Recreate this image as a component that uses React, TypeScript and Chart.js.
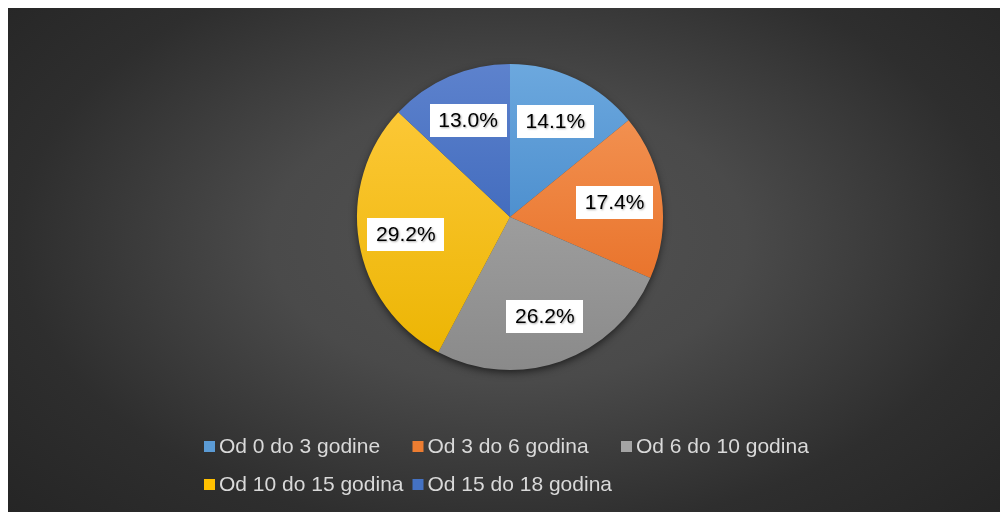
import React, { useEffect, useRef } from "react";
import { Chart, registerables } from "chart.js";

Chart.register(...registerables);

const categories = [
  "Od 0 do 3 godine",
  "Od 3 do 6 godina",
  "Od 6 do 10 godina",
  "Od 10 do 15 godina",
  "Od 15 do 18 godina",
];
const shares = [14.1, 17.4, 26.2, 29.2, 13.0];
const baseColors = ["#5b9bd5", "#ed7d31", "#a5a5a5", "#ffc000", "#4472c4"];
const topColors = ["#6ca8de", "#f59a5c", "#b0b0b0", "#ffcb40", "#5d82cd"];
const bottomColors = ["#3078c0", "#e46418", "#8a8a8a", "#ebb400", "#2a58b0"];

const FONT = "'Liberation Sans', Arial, sans-serif";

const backgroundPlugin = {
  id: "bgGradient",
  beforeDraw(chart: any) {
    const { ctx, width, height } = chart;
    ctx.save();
    const cx = 500;
    const cy = height / 2 - 20;
    const sy = 0.6;
    ctx.translate(cx, cy);
    ctx.scale(1, sy);
    const g = ctx.createRadialGradient(0, 0, 0, 0, 0, 680);
    g.addColorStop(0, "#525252");
    g.addColorStop(0.35, "#4a4a4a");
    g.addColorStop(0.72, "#2e2e2e");
    g.addColorStop(1, "#252525");
    ctx.fillStyle = g;
    ctx.fillRect(-cx - 10, -cy / sy - 10, width + 20, height / sy + 60);
    ctx.restore();
  },
  beforeDatasetsDraw(chart: any) {
    const meta = chart.getDatasetMeta(0);
    const arc = meta.data[0];
    if (!arc) return;
    const { x, y, outerRadius } = arc.getProps(["x", "y", "outerRadius"], true);
    const ctx = chart.ctx;
    ctx.save();
    ctx.shadowColor = "rgba(0,0,0,0.65)";
    ctx.shadowBlur = 9;
    ctx.shadowOffsetY = 3;
    ctx.fillStyle = "#444444";
    ctx.beginPath();
    ctx.arc(x, y, outerRadius - 1, 0, Math.PI * 2);
    ctx.fill();
    ctx.restore();
  },
};

const labelPlugin = {
  id: "sliceLabels",
  afterDatasetsDraw(chart: any) {
    const ctx = chart.ctx;
    const meta = chart.getDatasetMeta(0);
    ctx.save();
    ctx.font = `21px ${FONT}`;
    ctx.textAlign = "center";
    ctx.textBaseline = "middle";
    meta.data.forEach((arc: any, i: number) => {
      const { x, y, startAngle, endAngle, outerRadius } = arc.getProps(
        ["x", "y", "startAngle", "endAngle", "outerRadius"],
        true
      );
      const mid = (startAngle + endAngle) / 2;
      const r = outerRadius * 0.69;
      const lx = x + Math.cos(mid) * r;
      const ly = y + Math.sin(mid) * r;
      const text = shares[i].toFixed(1) + "%";
      const bw = 77;
      const bh = 33;
      ctx.fillStyle = "#ffffff";
      ctx.fillRect(Math.round(lx - bw / 2), Math.round(ly - bh / 2), bw, bh);
      ctx.save();
      ctx.shadowColor = "rgba(0,0,0,0.35)";
      ctx.shadowBlur = 2;
      ctx.shadowOffsetX = 1;
      ctx.shadowOffsetY = 1;
      ctx.fillStyle = "#000000";
      ctx.fillText(text, lx, ly + 1);
      ctx.restore();
    });
    ctx.restore();
  },
};

const legendPlugin = {
  id: "gridLegend",
  afterDraw(chart: any) {
    const ctx = chart.ctx;
    const colStart = 196;
    const colWidth = 208.5;
    const rows = [438, 476];
    const perRow = 3;
    ctx.save();
    ctx.font = `21px ${FONT}`;
    ctx.textAlign = "left";
    ctx.textBaseline = "middle";
    categories.forEach((name, i) => {
      const col = i % perRow;
      const row = Math.floor(i / perRow);
      const bx = colStart + col * colWidth;
      const by = rows[row];
      ctx.fillStyle = baseColors[i];
      ctx.fillRect(bx, by - 5, 11, 11);
      ctx.fillStyle = "#d9d9d9";
      ctx.fillText(name, bx + 15, by + 1);
    });
    ctx.restore();
  },
};

export default function App() {
  const canvasRef = useRef<HTMLCanvasElement | null>(null);

  useEffect(() => {
    document.documentElement.style.overflow = "hidden";
    const canvas = canvasRef.current;
    if (!canvas) return;
    const sliceColor = (c: any) => {
      const i = c.dataIndex;
      const chart = c.chart;
      const area = chart.chartArea;
      if (!area || i === undefined) return baseColors[i ?? 0];
      const g = chart.ctx.createLinearGradient(0, area.top, 0, area.bottom);
      g.addColorStop(0, topColors[i]);
      g.addColorStop(1, bottomColors[i]);
      return g;
    };
    const chart = new Chart(canvas, {
      type: "pie",
      data: {
        labels: categories,
        datasets: [
          {
            data: shares,
            backgroundColor: sliceColor,
            borderWidth: 0,
            hoverBorderWidth: 0,
            hoverOffset: 0,
            offset: 0,
          } as any,
        ],
      },
      options: {
        animation: false,
        responsive: false,
        maintainAspectRatio: false,
        devicePixelRatio: 1,
        layout: { padding: { top: 56, bottom: 142, left: 4, right: 0 } },
        plugins: {
          legend: { display: false },
          tooltip: { enabled: false },
          title: { display: false },
        },
        events: [],
      },
      plugins: [backgroundPlugin, labelPlugin, legendPlugin],
    });
    return () => chart.destroy();
  }, []);

  return (
    <div style={{ position: "fixed", left: 8, top: 8, width: 1000, height: 504 }}>
      <canvas ref={canvasRef} width={1000} height={504} style={{ display: "block" }} />
    </div>
  );
}
